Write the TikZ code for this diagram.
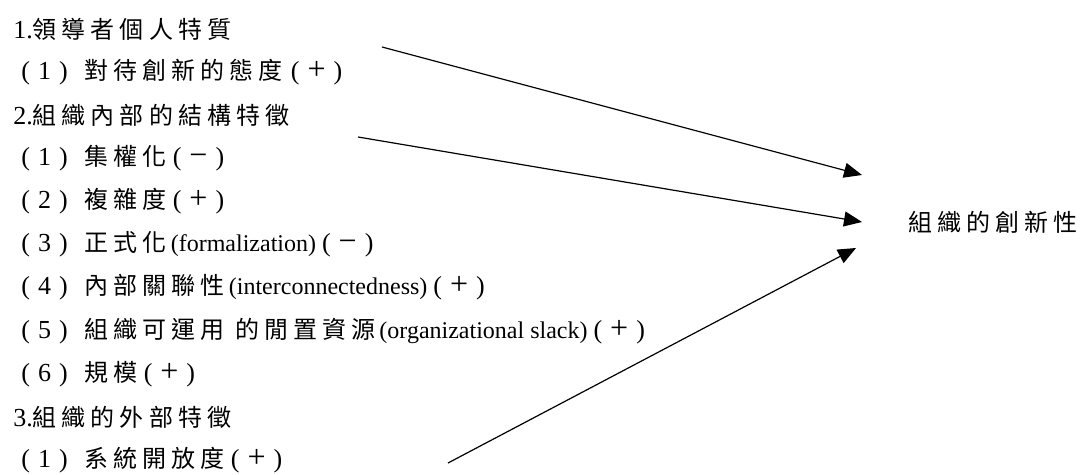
\documentclass[tikz,border=0pt]{standalone}
\usepackage{fontspec}
\setmainfont{Liberation Serif}
\newfontfamily\cjk[LetterSpace=21]{Noto Sans CJK TC}
\usetikzlibrary{arrows.meta}

\newcommand\zh[1]{{\cjk\fontsize{12}{14}\selectfont #1}}
\newcommand\dg[1]{{\fontsize{13}{14}\selectfont #1}}
\newcommand\pn[1]{{\fontsize{13}{14}\selectfont(\hspace{4pt}#1\hspace{4pt})}}
\newcommand\sg[1]{{\fontsize{16}{14}\selectfont #1}}

\begin{document}
\begin{tikzpicture}[x=0.5pt,y=-0.5pt,
    line/.style={anchor=west,inner sep=0pt,font=\fontsize{12}{14}\selectfont},
    link/.style={line width=0.6pt,-{Triangle[length=9pt,width=7.5pt]}}]
  \useasboundingbox (0,0) rectangle (1088,475);
  % factor list
  \foreach \xx/\txt [count=\i] in {
      13/{\dg{1.}\zh{領導者個人特質}},
      21/{\pn{1}\hspace{8.5pt}\zh{對待創新的態度}\hspace{4pt}\pn{\sg{+}}},
      13/{\dg{2.}\zh{組織內部的結構特徵}},
      21/{\pn{1}\hspace{8.5pt}\zh{集權化}\hspace{3pt}\pn{\sg{−}}},
      21/{\pn{2}\hspace{8.5pt}\zh{複雜度}\hspace{3pt}\pn{\sg{+}}},
      21/{\pn{3}\hspace{8.5pt}\zh{正式化}\hspace{2pt}(formalization)\hspace{3pt}\pn{\sg{−}}},
      21/{\pn{4}\hspace{8.5pt}\zh{內部關聯性}\hspace{2pt}(interconnectedness)\hspace{3pt}\pn{\sg{+}}},
      21/{\pn{5}\hspace{8.5pt}\zh{組織可運用 的閒置資源}\hspace{2pt}(organizational slack)\hspace{3pt}\pn{\sg{+}}},
      21/{\pn{6}\hspace{8.5pt}\zh{規模}\hspace{3pt}\pn{\sg{+}}},
      13/{\dg{3.}\zh{組織的外部特徵}},
      21/{\pn{1}\hspace{8.5pt}\zh{系統開放度}\hspace{3pt}\pn{\sg{+}}}} {
    \node[line] (l\i) at (\xx,{29+43.1*(\i-1)}) {\txt};
  }
  \node (innov) at (993,222) {\zh{組織的創新性}};
  % arrows
  \coordinate (s1) at (382,47);
  \coordinate (t1) at (862,175);
  \coordinate (s2) at (358,137);
  \coordinate (t2) at (862,222);
  \coordinate (s3) at (448,463);
  \coordinate (t3) at (856,248);
  \draw[link] (s1) -- (t1);
  \draw[link] (s2) -- (t2);
  \draw[link] (s3) -- (t3);
\end{tikzpicture}
\end{document}
